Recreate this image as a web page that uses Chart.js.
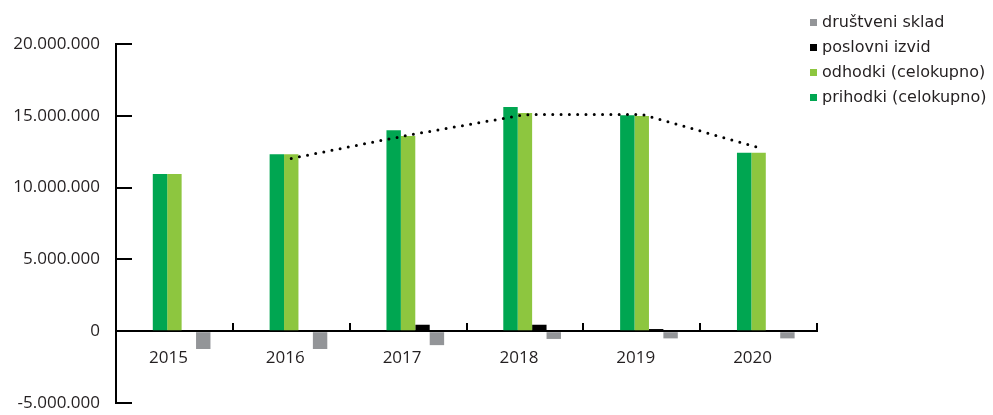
<!DOCTYPE html>
<html>
<head>
<meta charset="utf-8">
<script src="https://cdn.jsdelivr.net/npm/chart.js@4"></script>
<style>
  html, body { margin: 0; padding: 0; background: #fff; }
  canvas { display: block; }
</style>
</head>
<body>
<canvas id="myChart" width="993" height="415"></canvas>
<script>
const years = ['2015', '2016', '2017', '2018', '2019', '2020'];
const prihodki = [10940000, 12330000, 13990000, 15610000, 15030000, 12420000];
const odhodki = [10940000, 12330000, 13600000, 15190000, 14990000, 12420000];
const poslovniIzvid = [80000, 70000, 450000, 450000, 150000, 70000];
const druzbeniSklad = [-1240000, -1240000, -970000, -540000, -500000, -500000];
const trend = [null, 12030000, 13650000, 15080000, 15100000, 12790000];
const yTicks = [-5000000, 0, 5000000, 10000000, 15000000, 20000000];

const textColor = '#231f20';

function formatNum(v) {
    return String(v).replace(/\B(?=(\d{3})+(?!\d))/g, '.');
}

// legend drawn by hand, top right, reversed order
const sideLegend = {
    id: 'sideLegend',
    afterDraw(chart) {
        const c = chart.ctx;
        const items = chart.data.datasets.filter(d => d.type !== 'line' && d.label);
        items.reverse();
        c.save();
        c.font = '16px "DejaVu Sans"';
        c.textBaseline = 'middle';
        items.forEach((d, i) => {
            const y = 22.5 + i * 25;
            c.fillStyle = d.backgroundColor;
            c.fillRect(810, y - 3.5, 7, 7);
            c.fillStyle = textColor;
            c.fillText(d.label, 822, y);
        });
        c.restore();
    }
};

const ctx = document.getElementById('myChart').getContext('2d');

const chart = new Chart(ctx, {
    type: 'bar',
    data: {
        labels: years,
        datasets: [
            {
                type: 'line',
                label: '',
                data: trend,
                borderColor: '#000',
                borderWidth: 3,
                borderDash: [0, 8.3],
                borderCapStyle: 'round',
                pointRadius: 0,
                fill: false,
                tension: 0,
                order: 0,
            },
            { label: '', data: years.map(() => null), backgroundColor: 'rgba(0,0,0,0)', order: 1 },
            { label: 'prihodki (celokupno)', data: prihodki, backgroundColor: '#00a651', order: 1 },
            { label: 'odhodki (celokupno)', data: odhodki, backgroundColor: '#8dc63f', order: 1 },
            { label: 'poslovni izvid', data: poslovniIzvid, backgroundColor: '#000000', order: 1 },
            { label: 'društveni sklad', data: druzbeniSklad, backgroundColor: '#939598', order: 1 },
        ],
    },
    options: {
        responsive: false,
        animation: false,
        layout: { padding: { left: 0, top: 44, right: 176, bottom: 12 } },
        datasets: {
            bar: { categoryPercentage: 0.617, barPercentage: 1 },
        },
        plugins: {
            legend: { display: false },
            tooltip: { enabled: false },
        },
        scales: {
            x: {
                position: { y: 0 },
                offset: true,
                afterFit(scale) { scale.height = 0; },
                grid: {
                    offset: true,
                    drawOnChartArea: false,
                    drawTicks: true,
                    tickLength: -9,
                    color: '#000',
                    lineWidth: 2,
                },
                border: { color: '#000', width: 2 },
                ticks: {
                    color: textColor,
                    font: { family: 'Open Sans', size: 17 },
                    padding: 26,
                    labelOffset: -6,
                    maxRotation: 0,
                },
            },
            y: {
                min: -5000000,
                max: 20000000,
                afterFit(scale) {
                    scale.width = 116;
                    scale.paddingTop = 0;
                    scale.paddingBottom = 0;
                },
                afterBuildTicks(scale) { scale.ticks = yTicks.map(v => ({ value: v })); },
                grid: {
                    drawOnChartArea: false,
                    drawTicks: true,
                    tickLength: -16,
                    color: '#000',
                    lineWidth: 2,
                },
                border: { color: '#000', width: 2 },
                ticks: {
                    color: textColor,
                    font: { family: 'Open Sans', size: 17 },
                    padding: 32,
                    callback: v => formatNum(v),
                },
            },
        },
    },
    plugins: [sideLegend],
});
</script>
</body>
</html>
